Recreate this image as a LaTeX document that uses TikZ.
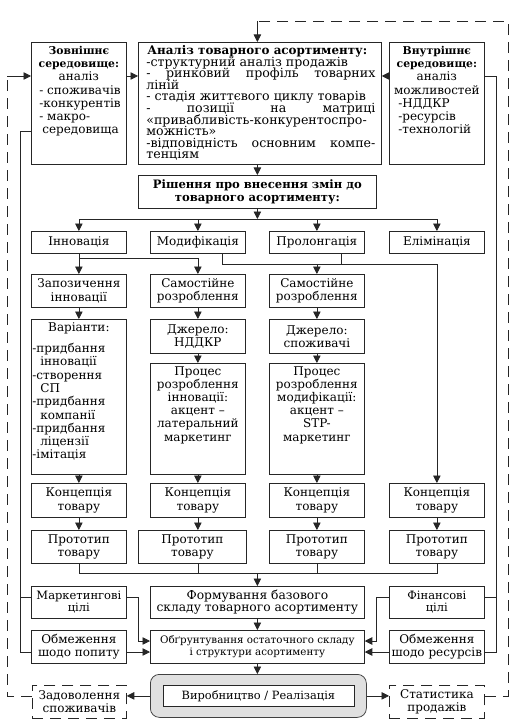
\documentclass[tikz,border=0pt]{standalone}
\usepackage{fontspec}
\setmainfont{DejaVu Serif}
\usetikzlibrary{arrows.meta}
\newcommand{\bt}[1]{{\fontsize{10.8pt}{13pt}\selectfont\bfseries #1}}
\newcommand{\tb}[3]{\parbox[c][#2pt][t]{#1pt}{#3}}
\begin{document}
\begin{tikzpicture}[x=1pt,y=-1pt,
  font=\fontsize{12pt}{13.2pt}\selectfont,
  bx/.style={draw=black!85, line width=0.75pt, fill=white, inner sep=0pt, anchor=north west, align=center, minimum width=95pt},
  ln/.style={draw=black!85, line width=0.75pt},
  arr/.style={ln, -{Triangle[length=7.5pt,width=7.5pt]}},
  dsh/.style={ln, dash pattern=on 11pt off 7pt},
]
\useasboundingbox (0,0) rectangle (522,722);
% level coordinates
\coordinate (yT) at (0,21);
\coordinate (yA) at (0,76);
\coordinate (yB) at (0,131);
\coordinate (yBus) at (0,219);
\coordinate (yI) at (0,258);
\coordinate (yM) at (0,264);
\coordinate (yP) at (0,573);
\coordinate (yF) at (0,597);
\coordinate (yG) at (0,641);
\coordinate (yH) at (0,652);
\coordinate (xLL) at (7,0);
\coordinate (xL) at (20,0);
\coordinate (xL2) at (138,0);
\coordinate (xR2) at (376,0);
\coordinate (xR) at (496,0);
\coordinate (xRR) at (508,0);

% top row
\node[bx] (ext) at (31,42) {\tb{95}{122}{\raggedright\vspace*{4pt}%
\centerline{\bt{Зовнішнє}}%
\centerline{\bt{середовище:}}%
\centerline{аналіз}%
\hspace*{8pt}- споживачів\\
\hspace*{8pt}-конкурентів\\
\hspace*{8pt}- макро-\\
\hspace*{11pt}середовища}};

\node[bx, minimum width=243pt] (anal) at (138,42) {\tb{243}{122}{\fontsize{12.6pt}{11.6pt}\selectfont\lineskiplimit=-20pt\vspace*{3pt}\baselineskip=11.6pt
\hspace*{9pt}\makebox[229pt][l]{{\fontsize{11.9pt}{11.6pt}\selectfont\bfseries Аналіз товарного асортименту:}}\\
\hspace*{8pt}\makebox[229pt][l]{-структурний аналіз продажів}\\
\hspace*{8pt}\makebox[229pt][s]{- ринковий профіль товарних}\\
\hspace*{8pt}\makebox[229pt][l]{ліній}\\
\hspace*{8pt}\makebox[229pt][l]{- стадія життєвого циклу товарів}\\
\hspace*{8pt}\makebox[229pt][s]{- позиції на матриці}\\
\hspace*{8pt}\makebox[229pt][l]{«привабливість-конкурентоспро-}\\
\hspace*{8pt}\makebox[229pt][l]{можність»}\\
\hspace*{8pt}\makebox[229pt][s]{-відповідність основним компе-}\\
\hspace*{8pt}\makebox[229pt][l]{тенціям}}};

\node[bx] (int) at (389,42) {\tb{95}{122}{\raggedright\vspace*{4pt}%
\centerline{\bt{Внутрішнє}}%
\centerline{\bt{середовище:}}%
\centerline{аналіз}%
\centerline{можливостей}%
\hspace*{9pt}-НДДКР\\
\hspace*{9pt}-ресурсів\\
\hspace*{9pt}-технологій}};

\node[bx, minimum width=238pt, minimum height=33pt, font=\fontsize{11.6pt}{13pt}\selectfont\bfseries] (dec) at (138,175)
  {Рішення про внесення змін до\\товарного асортименту:};

% decisions
\node[bx, minimum height=22pt] (inn) at (31,231) {Інновація};
\node[bx, minimum height=22pt] (mod) at (150,231) {Модифікація};
\node[bx, minimum height=22pt] (prol) at (269,231) {Пролонгація};
\node[bx, minimum height=22pt] (elim) at (389,231) {Елімінація};

\node[bx, minimum height=33pt] (bor) at (31,274) {Запозичення\\інновації};
\node[bx, minimum height=33pt] (self2) at (150,274) {Самостійне\\розроблення};
\node[bx, minimum height=33pt] (self3) at (269,274) {Самостійне\\розроблення};

\node[bx] (var) at (31,319) {\tb{95}{155}{\raggedright\baselineskip=13.3pt\vspace*{3pt}%
\centerline{Варіанти:}\vspace{8pt}%
\hspace*{1pt}-придбання\\
\hspace*{9pt}інновації\\
\hspace*{1pt}-створення\\
\hspace*{9pt}СП\\
\hspace*{1pt}-придбання\\
\hspace*{9pt}компанії\\
\hspace*{1pt}-придбання\\
\hspace*{9pt}ліцензії\\
\hspace*{1pt}-імітація}};

\node[bx, minimum height=34pt] (src2) at (150,319) {Джерело:\\НДДКР};
\node[bx, minimum height=34pt] (src3) at (269,319) {Джерело:\\споживачі};

\node[bx] (proc2) at (150,363) {\tb{95}{111}{\centering\vspace*{3pt}%
Процес\\розроблення\\інновації:\\акцент –\\латеральний\\маркетинг}};
\node[bx] (proc3) at (269,363) {\tb{95}{111}{\centering\vspace*{3pt}%
Процес\\розроблення\\модифікації:\\акцент –\\STP-\\маркетинг}};

\node[bx, minimum height=34pt] (conc1) at (31,483) {Концепція\\товару};
\node[bx, minimum height=34pt] (conc2) at (150,483) {Концепція\\товару};
\node[bx, minimum height=34pt] (conc3) at (269,483) {Концепція\\товару};
\node[bx, minimum height=34pt] (conc4) at (389,483) {Концепція\\товару};

\node[bx, minimum height=33pt] (proto1) at (31,530) {Прототип\\товару};
\node[bx, minimum height=33pt, minimum width=108pt] (proto2) at (138,530) {Прототип\\товару};
\node[bx, minimum height=33pt] (proto3) at (269,530) {Прототип\\товару};
\node[bx, minimum height=33pt] (proto4) at (389,530) {Прототип\\товару};

% bottom part
\node[bx, minimum height=32pt, font=\fontsize{11.5pt}{12pt}\selectfont] (mkt) at (31,586) {Маркетингові\\цілі};
\node[bx, minimum height=32pt, minimum width=214pt, font=\fontsize{12.3pt}{12pt}\selectfont] (form) at (150,586)
  {Формування базового\\складу товарного асортименту};
\node[bx, minimum height=32pt, font=\fontsize{11.5pt}{12pt}\selectfont] (fin) at (389,586) {Фінансові\\цілі};

\node[bx, minimum height=33pt] (dem) at (31,630) {Обмеження\\шодо попиту};
\node[bx, minimum height=33pt, minimum width=214pt, font=\fontsize{10.3pt}{12.5pt}\selectfont] (just) at (150,630)
  {Обґрунтування остаточного складу\\і структури асортименту};
\node[bx, minimum height=33pt] (res) at (389,630) {Обмеження\\шодо ресурсів};

\node[draw=black!75, line width=0.75pt, fill=black!12, rounded corners=9pt, minimum width=216pt, minimum height=43pt, anchor=north west, inner sep=0pt] (gray) at (150,674) {};
\node[bx, anchor=center, minimum width=191pt, minimum height=21pt, font=\fontsize{11.4pt}{12pt}\selectfont] (prod) at (gray.center) {Виробництво / Реалізація};

\node[bx, dsh, minimum width=94pt, minimum height=33pt] (zad) at (32,685) {Задоволення\\споживачів};
\node[bx, dsh, minimum height=33pt] (stat) at (389,685) {Статистика\\продажів};

% connectors: top
\draw[arr] (ext.east |- yA) -- (anal.west |- yA);
\draw[arr] (int.west |- yA) -- (anal.east |- yA);
\draw[arr] (dec.north |- anal.south) -- (dec.north);
\draw[arr] (dec.south) -- (dec.south |- yBus);
\draw[ln] (inn.north |- yBus) -- (elim.north |- yBus);
\foreach \n in {inn,mod,prol,elim} \draw[arr] (\n.north |- yBus) -- (\n.north);

% innovation branch
\draw[arr] (inn.south) -- (bor.north);
\draw[ln] (inn.south |- yI) -- (self2.north |- yI);
\draw[arr] (self2.north |- yI) -- (self2.north);

% modification / prolongation branch
\draw[arr] ([xshift=24.5pt]mod.south) |- (conc4.north |- yM) -- (conc4.north);
\draw[ln] ([xshift=24.5pt]prol.south) -- ([xshift=24.5pt]prol.south |- yM);
\draw[arr] (self3.north |- yM) -- (self3.north);

% columns
\draw[arr] (bor.south) -- (var.north);
\draw[arr] (var.south) -- (conc1.north);
\draw[arr] (conc1.south) -- (proto1.north);
\draw[arr] (self2.south) -- (src2.north);
\draw[arr] (src2.south) -- (proc2.north);
\draw[arr] (proc2.south) -- (conc2.north);
\draw[arr] (conc2.south) -- (conc2.south |- proto2.north);
\draw[arr] (self3.south) -- (src3.north);
\draw[arr] (src3.south) -- (proc3.north);
\draw[arr] (proc3.south) -- (conc3.north);
\draw[arr] (conc3.south) -- (proto3.north);
\draw[arr] (conc4.south) -- (proto4.north);

% collect prototypes
\draw[ln] (proto1.south) -- (proto1.south |- yP) -- (proto4.south |- yP) -- (proto4.south);
\draw[ln] (conc2.south |- proto2.south) -- (conc2.south |- yP);
\draw[ln] (proto3.south) -- (proto3.south |- yP);
\draw[arr] (form.north |- yP) -- (form.north);
\draw[arr] (form.south) -- (form.south |- just.north);
\draw[arr] (form.south |- just.south) -- (form.south |- gray.north);

% environment feeds
\draw[ln] (ext.west |- yB) -- (xL |- yB) -- (xL |- yH) -- (dem.west |- yH);
\draw[ln] (xL |- yF) -- (mkt.west |- yF);
\draw[ln] (int.east |- yA) -- (xR |- yA) -- (xR |- yH) -- (res.east |- yH);
\draw[ln] (xR |- yF) -- (fin.east |- yF);

\draw[arr] (mkt.east |- yF) -- (xL2 |- yF) -- (xL2 |- yG) -- (just.west |- yG);
\draw[arr] (dem.east |- yH) -- (just.west |- yH);
\draw[arr] (fin.west |- yF) -- (xR2 |- yF) -- (xR2 |- yG) -- (just.east |- yG);
\draw[arr] (res.west |- yH) -- (just.east |- yH);

% outputs
\draw[arr] (gray.west) -- (zad.east |- gray.west);
\draw[arr] (gray.east) -- (stat.west |- gray.east);

% feedback loops
\draw[dsh] (zad.west |- gray.west) -- (xLL |- gray.west) -- (xLL |- yA);
\draw[arr] (xLL |- yA) -- (ext.west |- yA);
\draw[dsh] (stat.east |- gray.east) -- (xRR |- gray.east) -- (xRR |- yT) -- (dec.north |- yT);
\draw[arr] (dec.north |- yT) -- (dec.north |- anal.north);
\end{tikzpicture}
\end{document}
